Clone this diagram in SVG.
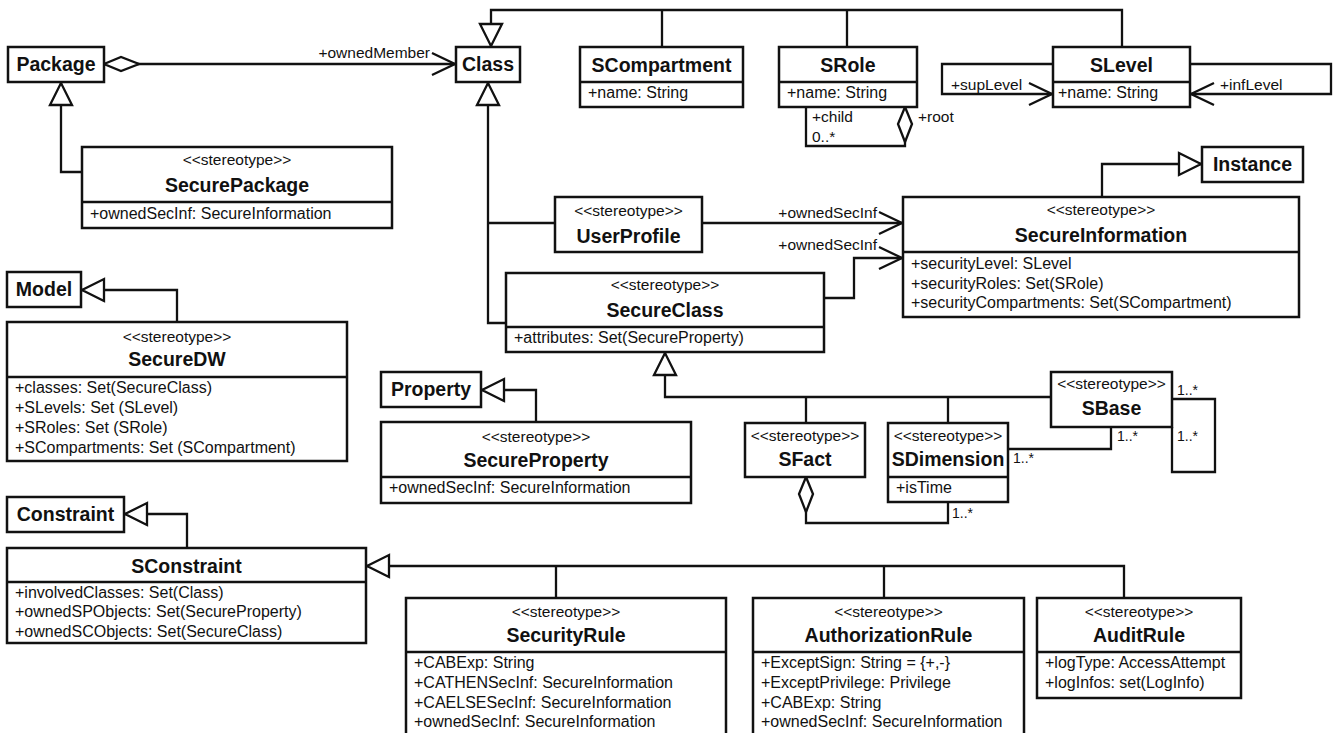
<svg xmlns="http://www.w3.org/2000/svg" width="1336" height="733" viewBox="0 0 1336 733">
  <style>
    .box { fill: #fff; stroke: #111; stroke-width: 2.5; }
    .div { stroke: #111; stroke-width: 2.5; fill: none; }
    .ln { fill: none; stroke: #111; stroke-width: 2.3; }
    text { font-family: "Liberation Sans", Arial, Helvetica, sans-serif; fill: #111; }
    .title { font-size: 19.5px; font-weight: bold; text-anchor: middle; }
    .st { font-size: 15.5px; text-anchor: middle; }
    .attr { font-size: 16px; }
    .lbl { font-size: 15.5px; }
    .lbl-end { font-size: 15.5px; text-anchor: end; }
    .mult { font-size: 14px; }
  </style>
  <defs>
    <!-- hollow generalization triangle -->
    <marker id="gen" markerUnits="userSpaceOnUse" viewBox="-2 -2 26 26" refX="22" refY="11" markerWidth="26" markerHeight="26" orient="auto" overflow="visible">
      <path d="M0,0 L22,11 L0,22 Z" fill="#fff" stroke="#111" stroke-width="2.3"/>
    </marker>
    <!-- open navigable arrow -->
    <marker id="open" markerUnits="userSpaceOnUse" viewBox="-2 -2 27 26" refX="23" refY="11" markerWidth="27" markerHeight="26" orient="auto" overflow="visible">
      <path d="M0,0 L23,11 L0,22" fill="none" stroke="#111" stroke-width="2.3"/>
    </marker>
    <!-- hollow aggregation diamond -->
    <marker id="agg" markerUnits="userSpaceOnUse" viewBox="-2 -2 38 18" refX="0" refY="7" markerWidth="38" markerHeight="18" orient="auto" overflow="visible">
      <path d="M0,7 L17,0 L35,7 L17,14 Z" fill="#fff" stroke="#111" stroke-width="2.3"/>
    </marker>
  </defs>

  <g id="connectors">
    <!-- Package owns Class -->
    <path class="ln" d="M104,64 H455" marker-start="url(#agg)" marker-end="url(#open)"/>
    <text class="lbl-end" x="430" y="58">+ownedMember</text>
    <!-- SCompartment / SRole / SLevel specialise Class -->
    <path class="ln" d="M1122,47 V10 H491 V46" marker-end="url(#gen)"/>
    <path class="ln" d="M662,47 V10 M847,47 V10"/>
    <!-- SRole hierarchy -->
    <path class="ln" d="M905,107 V146 H806 V107" marker-start="url(#agg)"/>
    <text class="lbl" x="812" y="122">+child</text>
    <text class="lbl" x="812" y="142">0..*</text>
    <text class="lbl" x="918" y="122">+root</text>
    <!-- SLevel ordering -->
    <path class="ln" d="M1053,64 H942 V94 H1052" marker-end="url(#open)"/>
    <text class="lbl" x="951" y="90">+supLevel</text>
    <path class="ln" d="M1190,64 H1331 V94 H1191" marker-end="url(#open)"/>
    <text class="lbl" x="1220" y="90">+infLevel</text>
    <!-- SecurePackage extends Package -->
    <path class="ln" d="M82,172 H61 V83" marker-end="url(#gen)"/>
    <!-- SecureInformation extends Instance -->
    <path class="ln" d="M1102,197 V164 H1201" marker-end="url(#gen)"/>
    <!-- UserProfile / SecureClass extend Class -->
    <path class="ln" d="M506,323 H488 V83" marker-end="url(#gen)"/>
    <path class="ln" d="M555,223 H488"/>
    <!-- ownedSecInf associations -->
    <path class="ln" d="M702,223 H902" marker-end="url(#open)"/>
    <text class="lbl-end" x="877" y="218">+ownedSecInf</text>
    <path class="ln" d="M824,298 H854 V258 H902" marker-end="url(#open)"/>
    <text class="lbl-end" x="877" y="250">+ownedSecInf</text>
    <!-- SecureDW extends Model -->
    <path class="ln" d="M177,322 V290 H82" marker-end="url(#gen)"/>
    <!-- SecureProperty extends Property -->
    <path class="ln" d="M536,422 V390 H482" marker-end="url(#gen)"/>
    <!-- SConstraint extends Constraint -->
    <path class="ln" d="M187,548 V514 H125" marker-end="url(#gen)"/>
    <!-- SFact / SDimension / SBase extend SecureClass -->
    <path class="ln" d="M1051,397 H665 V353" marker-end="url(#gen)"/>
    <path class="ln" d="M806,397 V423 M948,397 V423"/>
    <!-- SBase hierarchy -->
    <path class="ln" d="M1172,399 H1215 V472 H1172 V427"/>
    <text class="mult" x="1177" y="395">1..*</text>
    <text class="mult" x="1177" y="441">1..*</text>
    <!-- SDimension to SBase -->
    <path class="ln" d="M1008,449 H1111 V427"/>
    <text class="mult" x="1013" y="463">1..*</text>
    <text class="mult" x="1117" y="441">1..*</text>
    <!-- SFact aggregates SDimension -->
    <path class="ln" d="M806,477 V523 H948 V502" marker-start="url(#agg)"/>
    <text class="mult" x="952" y="518">1..*</text>
    <!-- rules extend SConstraint -->
    <path class="ln" d="M1124,598 V566 H367" marker-end="url(#gen)"/>
    <path class="ln" d="M556,598 V566 M884,598 V566"/>
  </g>

  <g id="Package">
    <rect class="box" x="8" y="47" width="96" height="35"/>
    <text class="title" x="56" y="71">Package</text>
  </g>
  <g id="Class">
    <rect class="box" x="456" y="47" width="64" height="35"/>
    <text class="title" x="488" y="71">Class</text>
  </g>
  <g id="SCompartment">
    <rect class="box" x="580" y="47" width="163" height="60"/>
    <path class="div" d="M580,82 H743"/>
    <text class="title" x="661.5" y="72">SCompartment</text>
    <text class="attr" x="588" y="98">+name: String</text>
  </g>
  <g id="SRole">
    <rect class="box" x="779" y="47" width="138" height="60"/>
    <path class="div" d="M779,82 H917"/>
    <text class="title" x="848" y="72">SRole</text>
    <text class="attr" x="787" y="98">+name: String</text>
  </g>
  <g id="SLevel">
    <rect class="box" x="1053" y="47" width="137" height="60"/>
    <path class="div" d="M1053,82 H1190"/>
    <text class="title" x="1121.5" y="72">SLevel</text>
    <text class="attr" x="1058" y="98">+name: String</text>
  </g>
  <g id="Instance">
    <rect class="box" x="1202" y="147" width="101" height="35"/>
    <text class="title" x="1252.5" y="171">Instance</text>
  </g>
  <g id="SecurePackage">
    <rect class="box" x="82" y="147" width="310" height="81"/>
    <path class="div" d="M82,202 H392"/>
    <text class="st" x="237" y="165">&lt;&lt;stereotype&gt;&gt;</text>
    <text class="title" x="237" y="192">SecurePackage</text>
    <text class="attr" x="90" y="219">+ownedSecInf: SecureInformation</text>
  </g>
  <g id="UserProfile">
    <rect class="box" x="555" y="197" width="147" height="55"/>
    <text class="st" x="628.5" y="216">&lt;&lt;stereotype&gt;&gt;</text>
    <text class="title" x="628.5" y="243">UserProfile</text>
  </g>
  <g id="SecureInformation">
    <rect class="box" x="903" y="197" width="396" height="120"/>
    <path class="div" d="M903,252 H1299"/>
    <text class="st" x="1101" y="215">&lt;&lt;stereotype&gt;&gt;</text>
    <text class="title" x="1101" y="242">SecureInformation</text>
    <text class="attr" x="911" y="269">+securityLevel: SLevel</text>
    <text class="attr" x="911" y="288.5">+securityRoles: Set(SRole)</text>
    <text class="attr" x="911" y="308">+securityCompartments: Set(SCompartment)</text>
  </g>
  <g id="SecureClass">
    <rect class="box" x="506" y="273" width="318" height="79"/>
    <path class="div" d="M506,327 H824"/>
    <text class="st" x="665" y="290">&lt;&lt;stereotype&gt;&gt;</text>
    <text class="title" x="665" y="317">SecureClass</text>
    <text class="attr" x="514" y="343">+attributes: Set(SecureProperty)</text>
  </g>
  <g id="Model">
    <rect class="box" x="7" y="272" width="74" height="35"/>
    <text class="title" x="44" y="296">Model</text>
  </g>
  <g id="SecureDW">
    <rect class="box" x="7" y="322" width="340" height="139"/>
    <path class="div" d="M7,377 H347"/>
    <text class="st" x="177" y="342">&lt;&lt;stereotype&gt;&gt;</text>
    <text class="title" x="177" y="366">SecureDW</text>
    <text class="attr" x="15" y="393">+classes: Set(SecureClass)</text>
    <text class="attr" x="15" y="413">+SLevels: Set (SLevel)</text>
    <text class="attr" x="15" y="433">+SRoles: Set (SRole)</text>
    <text class="attr" x="15" y="453">+SCompartments: Set (SCompartment)</text>
  </g>
  <g id="Property">
    <rect class="box" x="381" y="372" width="100" height="35"/>
    <text class="title" x="431" y="396">Property</text>
  </g>
  <g id="SecureProperty">
    <rect class="box" x="381" y="422" width="310" height="81"/>
    <path class="div" d="M381,477 H691"/>
    <text class="st" x="536" y="442">&lt;&lt;stereotype&gt;&gt;</text>
    <text class="title" x="536" y="467">SecureProperty</text>
    <text class="attr" x="389" y="493">+ownedSecInf: SecureInformation</text>
  </g>
  <g id="SBase">
    <rect class="box" x="1051" y="372" width="121" height="55"/>
    <text class="st" x="1111.5" y="389">&lt;&lt;stereotype&gt;&gt;</text>
    <text class="title" x="1111.5" y="415">SBase</text>
  </g>
  <g id="SFact">
    <rect class="box" x="745" y="423" width="120" height="54"/>
    <text class="st" x="805" y="441">&lt;&lt;stereotype&gt;&gt;</text>
    <text class="title" x="805" y="466">SFact</text>
  </g>
  <g id="SDimension">
    <rect class="box" x="888" y="423" width="120" height="79"/>
    <path class="div" d="M888,477 H1008"/>
    <text class="st" x="948" y="441">&lt;&lt;stereotype&gt;&gt;</text>
    <text class="title" x="948" y="466">SDimension</text>
    <text class="attr" x="896" y="493">+isTime</text>
  </g>
  <g id="Constraint">
    <rect class="box" x="7" y="497" width="117" height="35"/>
    <text class="title" x="65.5" y="521">Constraint</text>
  </g>
  <g id="SConstraint">
    <rect class="box" x="7" y="548" width="359" height="95"/>
    <path class="div" d="M7,582 H366"/>
    <text class="title" x="186.5" y="573">SConstraint</text>
    <text class="attr" x="15" y="598">+involvedClasses: Set(Class)</text>
    <text class="attr" x="15" y="617">+ownedSPObjects: Set(SecureProperty)</text>
    <text class="attr" x="15" y="637">+ownedSCObjects: Set(SecureClass)</text>
  </g>
  <g id="SecurityRule">
    <rect class="box" x="406" y="598" width="320" height="145"/>
    <path class="div" d="M406,652 H726"/>
    <text class="st" x="566" y="617">&lt;&lt;stereotype&gt;&gt;</text>
    <text class="title" x="566" y="642">SecurityRule</text>
    <text class="attr" x="414" y="668">+CABExp: String</text>
    <text class="attr" x="414" y="688">+CATHENSecInf: SecureInformation</text>
    <text class="attr" x="414" y="708">+CAELSESecInf: SecureInformation</text>
    <text class="attr" x="414" y="727">+ownedSecInf: SecureInformation</text>
  </g>
  <g id="AuthorizationRule">
    <rect class="box" x="753" y="598" width="271" height="145"/>
    <path class="div" d="M753,652 H1024"/>
    <text class="st" x="888.5" y="617">&lt;&lt;stereotype&gt;&gt;</text>
    <text class="title" x="888.5" y="642">AuthorizationRule</text>
    <text class="attr" x="761" y="668">+ExceptSign: String = {+,-}</text>
    <text class="attr" x="761" y="688">+ExceptPrivilege: Privilege</text>
    <text class="attr" x="761" y="708">+CABExp: String</text>
    <text class="attr" x="761" y="727">+ownedSecInf: SecureInformation</text>
  </g>
  <g id="AuditRule">
    <rect class="box" x="1037" y="598" width="204" height="100"/>
    <path class="div" d="M1037,652 H1241"/>
    <text class="st" x="1139" y="617">&lt;&lt;stereotype&gt;&gt;</text>
    <text class="title" x="1139" y="642">AuditRule</text>
    <text class="attr" x="1045" y="668">+logType: AccessAttempt</text>
    <text class="attr" x="1045" y="688">+logInfos: set(LogInfo)</text>
  </g>
</svg>
